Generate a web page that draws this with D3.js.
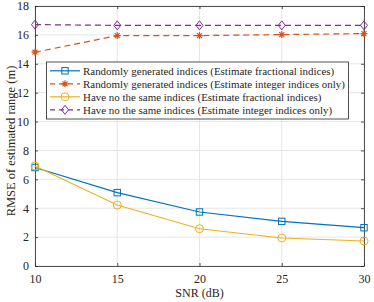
<!DOCTYPE html>
<html>
<head>
<meta charset="utf-8">
<script src="https://cdn.jsdelivr.net/npm/d3@7"></script>
<style>
  body { margin: 0; background: #fff; }
  svg text { font-family: "Liberation Serif", "Times New Roman", Times, serif; fill: #262626; }
</style>
</head>
<body>
<div id="chart"></div>
<script>
// data
const snr = [10, 15, 20, 25, 30]
const randFrac = [6.82, 5.08, 3.74, 3.09, 2.65]
const randInt = [14.8, 15.95, 15.95, 16.02, 16.09]
const noSameFrac = [6.92, 4.22, 2.58, 1.94, 1.73]
const noSameInt = [16.71, 16.66, 16.66, 16.66, 16.66]
const xTicks = [10, 15, 20, 25, 30]
const yTicks = [0, 2, 4, 6, 8, 10, 12, 14, 16, 18]

const series = [
	{ name: "Randomly generated indices (Estimate fractional indices)", values: randFrac, color: "#0072BD", dash: null, marker: "square" },
	{ name: "Randomly generated indices (Estimate integer indices only)", values: randInt, color: "#D95319", dash: "6,4", marker: "star" },
	{ name: "Have no the same indices (Estimate fractional indices)", values: noSameFrac, color: "#EDB120", dash: null, marker: "circle" },
	{ name: "Have no the same indices (Estimate integer indices only)", values: noSameInt, color: "#7E2F8E", dash: "6,4", marker: "diamond" }
]

const width = 374
const height = 302
const mLeft = 35, mRight = 364, mTop = 6, mBottom = 266
const serif = '"Liberation Serif", "Times New Roman", Times, serif'

let svg = d3.select("#chart").append("svg").attr("width", width).attr("height", height)

let x = d3.scaleLinear().domain([10, 30]).range([mLeft, mRight])
let y = d3.scaleLinear().domain([0, 18]).range([mBottom, mTop])

// grid
svg.append("g").selectAll("line").data(xTicks).enter().append("line")
	.attr("x1", d => x(d)).attr("x2", d => x(d)).attr("y1", mTop).attr("y2", mBottom)
	.attr("stroke", "#e6e6e6").attr("stroke-width", 1)
svg.append("g").selectAll("line").data(yTicks).enter().append("line")
	.attr("x1", mLeft).attr("x2", mRight).attr("y1", d => y(d)).attr("y2", d => y(d))
	.attr("stroke", "#e6e6e6").attr("stroke-width", 1)

// axes
svg.append("g").attr("transform", "translate(0," + mBottom + ")")
	.call(d3.axisBottom(x).tickValues(xTicks).tickSizeInner(-3).tickSizeOuter(0).tickPadding(8))
svg.append("g").attr("transform", "translate(" + mLeft + ",0)")
	.call(d3.axisLeft(y).tickValues(yTicks).tickSizeInner(-3).tickSizeOuter(0).tickPadding(6))
svg.append("g").attr("transform", "translate(0," + mTop + ")")
	.call(d3.axisTop(x).tickValues(xTicks).tickSizeInner(-3).tickSizeOuter(0).tickFormat(""))
svg.append("g").attr("transform", "translate(" + mRight + ",0)")
	.call(d3.axisRight(y).tickValues(yTicks).tickSizeInner(-3).tickSizeOuter(0).tickFormat(""))

svg.selectAll("g").attr("font-family", serif)
svg.selectAll(".domain").attr("stroke", "#262626").attr("stroke-width", 0.8)
svg.selectAll(".tick line").attr("stroke", "#262626").attr("stroke-width", 0.8)
svg.selectAll(".tick text").attr("font-size", 12).attr("fill", "#262626")

// axis labels
svg.append("text").attr("x", (mLeft + mRight) / 2).attr("y", 297).attr("text-anchor", "middle")
	.attr("font-family", serif).attr("font-size", 12).text("SNR (dB)")
svg.append("text").attr("transform", "translate(15,141) rotate(-90)")
	.attr("font-family", serif).attr("text-anchor", "middle").attr("font-size", 12.5).text("RMSE of estimated range (m)")

// markers
const drawMarker = (g, type, cx, cy, color) => {
	if (type === "square") {
		g.append("rect").attr("x", cx - 3.2).attr("y", cy - 3.2).attr("width", 6.4).attr("height", 6.4)
			.attr("fill", "none").attr("stroke", color).attr("stroke-width", 1)
	} else if (type === "circle") {
		g.append("circle").attr("cx", cx).attr("cy", cy).attr("r", 4)
			.attr("fill", "none").attr("stroke", color).attr("stroke-width", 1)
	} else if (type === "diamond") {
		g.append("path").attr("d", `M${cx},${cy - 4.5}L${cx + 3.5},${cy}L${cx},${cy + 4.5}L${cx - 3.5},${cy}Z`)
			.attr("fill", "none").attr("stroke", color).attr("stroke-width", 1)
	} else if (type === "star") {
		let p = ""
		for (let i = 0; i < 4; i++) {
			let a = i * Math.PI / 4
			let dx = 3.5 * Math.cos(a), dy = 3.5 * Math.sin(a)
			p += `M${cx - dx},${cy - dy}L${cx + dx},${cy + dy}`
		}
		g.append("path").attr("d", p).attr("stroke", color).attr("stroke-width", 1.2)
	}
}

let line = d3.line().x((d, i) => x(snr[i])).y(d => y(d))

series.forEach(s => {
	let g = svg.append("g")
	g.append("path").attr("d", line(s.values)).attr("fill", "none")
		.attr("stroke", s.color).attr("stroke-width", 1.2)
		.attr("stroke-dasharray", s.dash)
	s.values.forEach((v, i) => drawMarker(g, s.marker, x(snr[i]), y(v), s.color))
})

// legend
let lg = svg.append("g")
lg.append("rect").attr("x", 46.5).attr("y", 62).attr("width", 302).attr("height", 57)
	.attr("fill", "#fff").attr("stroke", "#262626").attr("stroke-width", 0.8)
let labels = []
series.forEach((s, i) => {
	let ly = 70.8 + i * 13
	lg.append("line").attr("x1", 50).attr("x2", 80).attr("y1", ly).attr("y2", ly)
		.attr("stroke", s.color).attr("stroke-width", 1.2).attr("stroke-dasharray", s.dash ? "5,4" : null)
	drawMarker(lg, s.marker, 65, ly, s.color)
	labels.push(lg.append("text").attr("x", 83).attr("y", ly + 4)
		.attr("font-family", serif).attr("font-size", 12).text(s.name))
})
// shrink legend text so the longest entry ends where it does in the picture
let longest = d3.max(labels, t => t.node().getComputedTextLength())
let fs = Math.min(12, 12 * 262 / longest)
labels.forEach(t => t.attr("font-size", fs))
</script>
</body>
</html>
